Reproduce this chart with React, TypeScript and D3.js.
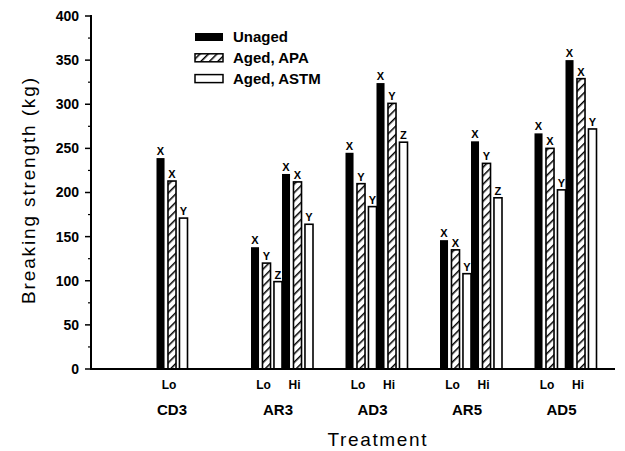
import { scaleBand, scaleLinear, range } from "d3";

const treatments = ["CD3", "AR3", "AD3", "AR5", "AD5"];
const levels = ["Lo", "Hi"];
const series = ["Unaged", "Aged, APA", "Aged, ASTM"];

// one entry per bar group (treatment + level)
const groupTreatment = ["CD3", "AR3", "AR3", "AD3", "AD3", "AR5", "AR5", "AD5", "AD5"];
const groupLevel = ["Lo", "Lo", "Hi", "Lo", "Hi", "Lo", "Hi", "Lo", "Hi"];

const unaged = [239, 138, 221, 245, 324, 146, 258, 267, 350];
const agedApa = [213, 120, 212, 210, 301, 135, 233, 250, 329];
const agedAstm = [171, 99, 164, 184, 257, 108, 194, 203, 272];

const unagedSig = ["X", "X", "X", "X", "X", "X", "X", "X", "X"];
const apaSig = ["X", "Y", "X", "Y", "Y", "X", "Y", "X", "X"];
const astmSig = ["Y", "Z", "Y", "Y", "Z", "Y", "Z", "Y", "Y"];

const yTicks = [0, 50, 100, 150, 200, 250, 300, 350, 400];

const FONT = "'Liberation Sans', Arial, sans-serif";

export default function App() {
  const W = 625;
  const H = 451;

  const y = scaleLinear().domain([0, 400]).range([369, 16]);
  const x = scaleBand().domain(treatments).range([156.5, 629]);
  const lvl = scaleBand().domain(levels).range([0, 62]);
  const bar = scaleBand()
    .domain(series)
    .range([0, lvl.bandwidth()])
    .paddingInner(0.3)
    .paddingOuter(0);

  const values = [unaged, agedApa, agedAstm];
  const sigs = [unagedSig, apaSig, astmSig];
  const fills = ["#000", "url(#hatch)", "#fff"];

  const groupX = (i: number) =>
    (x(groupTreatment[i]) as number) + (lvl(groupLevel[i]) as number);

  const minor = range(25, 400, 50);

  return (
    <svg
      width={W}
      height={H}
      style={{ position: "absolute", left: 0, top: 0, background: "#fff" }}
      fontFamily={FONT}
    >
      <defs>
        <pattern
          id="hatch"
          width={6}
          height={6}
          patternUnits="userSpaceOnUse"
          patternTransform="rotate(45)"
        >
          <rect width={6} height={6} fill="#fff" />
          <line x1={0} y1={0} x2={0} y2={6} stroke="#000" strokeWidth={3} />
        </pattern>
      </defs>

      {/* bars */}
      {groupTreatment.map((t, i) => (
        <g key={i} transform={`translate(${groupX(i)},0)`}>
          {series.map((s, k) => {
            const v = values[k][i];
            const bx = bar(s) as number;
            const bw = bar.bandwidth();
            return (
              <g key={s}>
                <rect
                  x={bx}
                  y={y(v)}
                  width={bw}
                  height={y(0) - y(v)}
                  fill={fills[k]}
                  stroke="#000"
                  strokeWidth={k === 0 ? 0 : 1.6}
                />
                <text
                  x={bx + bw / 2}
                  y={y(v) - 3}
                  textAnchor="middle"
                  fontSize={11}
                  fontWeight="bold"
                >
                  {sigs[k][i]}
                </text>
              </g>
            );
          })}
          <text
            x={lvl.bandwidth() / 2 - 3}
            y={389}
            textAnchor="middle"
            fontSize={12}
            fontWeight="bold"
          >
            {groupLevel[i]}
          </text>
        </g>
      ))}

      {/* treatment labels */}
      {treatments.map((t) => (
        <text
          key={t}
          x={
            t === "CD3"
              ? (x(t) as number) + lvl.bandwidth() / 2
              : (x(t) as number) + lvl.bandwidth() - 4
          }
          y={415}
          textAnchor="middle"
          fontSize={15}
          fontWeight="bold"
        >
          {t}
        </text>
      ))}

      {/* y axis */}
      <line x1={91} x2={91} y1={y(400) - 1} y2={y(0) + 1} stroke="#000" strokeWidth={2} />
      {yTicks.map((t) => (
        <g key={t}>
          <line x1={85} x2={91} y1={y(t)} y2={y(t)} stroke="#000" strokeWidth={1.5} />
          <text
            x={79}
            y={y(t)}
            dy="0.35em"
            textAnchor="end"
            fontSize={14}
            fontWeight="bold"
          >
            {t}
          </text>
        </g>
      ))}
      {minor.map((t) => (
        <line key={t} x1={88} x2={91} y1={y(t)} y2={y(t)} stroke="#000" strokeWidth={1.2} />
      ))}

      {/* x axis */}
      <line x1={90} x2={615} y1={y(0)} y2={y(0)} stroke="#000" strokeWidth={2} />

      {/* axis titles */}
      <text
        transform="translate(35,191) rotate(-90)"
        textAnchor="middle"
        fontSize={19}
        textLength={226}
        lengthAdjust="spacing"
      >
        Breaking strength (kg)
      </text>
      <text
        x={377}
        y={446}
        textAnchor="middle"
        fontSize={19}
        textLength={99}
        lengthAdjust="spacing"
      >
        Treatment
      </text>

      {/* legend */}
      {series.map((s, k) => (
        <g key={s} transform={`translate(195,${37 + k * 20.8})`}>
          <rect
            x={0}
            y={-4}
            width={28}
            height={8}
            fill={fills[k]}
            stroke="#000"
            strokeWidth={k === 0 ? 0 : 1.5}
          />
          <text x={38} y={0} dy="0.35em" fontSize={15} fontWeight="bold">
            {s}
          </text>
        </g>
      ))}
    </svg>
  );
}
